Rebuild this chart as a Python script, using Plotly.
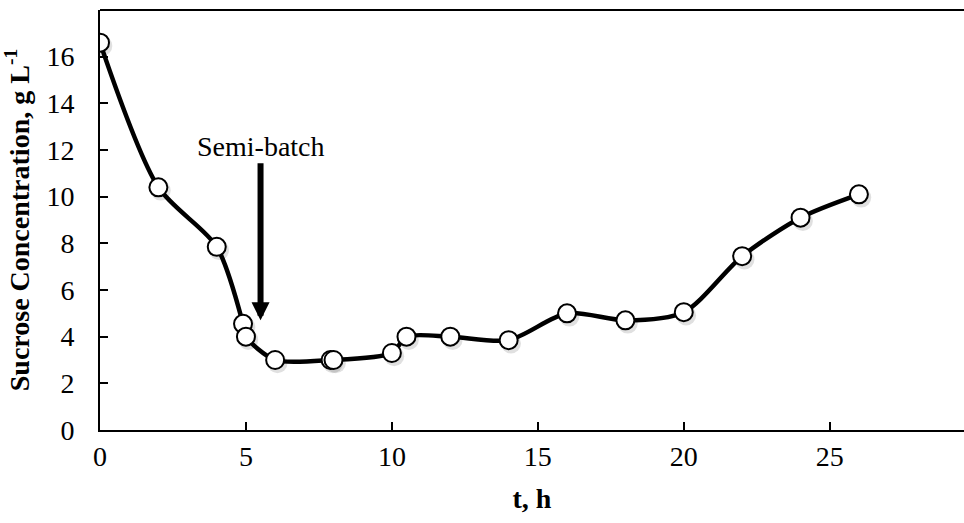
import plotly.graph_objects as go

# Sucrose concentration during fermentation (batch, then semi-batch feeding)
t_hours = [0, 2, 4, 4.9, 5.0, 6, 7.9, 8, 10, 10.5, 12, 14, 16, 18, 20, 22, 24, 26]
sucrose = [16.6, 10.4, 7.85, 4.55, 4.0, 3.0, 3.0, 3.0, 3.3, 4.0, 4.0, 3.85, 5.0, 4.7, 5.05, 7.45, 9.1, 10.1]

x_ticks = [0, 5, 10, 15, 20, 25]
y_ticks = [0, 2, 4, 6, 8, 10, 12, 14, 16]

# Semi-batch start marker
feed_time = 5.5
arrow_head_y = 4.7
arrow_tail_y = 11.5

FONT = "Liberation Serif, Times New Roman, serif"

fig = go.Figure()

# soft shadow under the markers
fig.add_trace(go.Scatter(
    x=[v + 0.08 for v in t_hours], y=[v - 0.14 for v in sucrose],
    mode="markers",
    marker=dict(size=20, color="rgba(0,0,0,0.12)", line=dict(width=0)),
    hoverinfo="skip", showlegend=False,
))

fig.add_trace(go.Scatter(
    x=t_hours, y=sucrose,
    mode="lines+markers",
    line=dict(color="black", width=4.5, shape="spline", smoothing=0.8),
    marker=dict(size=18, color="white", line=dict(color="black", width=2)),
    showlegend=False,
))

fig.add_annotation(
    x=feed_time, y=arrow_head_y, ax=feed_time, ay=arrow_tail_y,
    xref="x", yref="y", axref="x", ayref="y",
    showarrow=True, arrowhead=2, arrowsize=0.6, arrowwidth=6, arrowcolor="black",
    text="",
)
fig.add_annotation(
    x=feed_time, y=arrow_tail_y, xref="x", yref="y",
    text="Semi-batch", showarrow=False, yanchor="bottom", yshift=-2,
    font=dict(family=FONT, size=28, color="black"),
)

fig.update_layout(
    width=964, height=523,
    margin=dict(l=100, r=0, t=10, b=93),
    paper_bgcolor="white", plot_bgcolor="white",
    font=dict(family=FONT, size=28, color="black"),
)
fig.update_xaxes(
    range=[0, 29.6], tickvals=x_ticks, ticktext=[str(v) for v in x_ticks],
    ticks="inside", ticklen=8, tickwidth=1.5, tickcolor="black",
    showline=True, linecolor="black", linewidth=2, mirror=False,
    showgrid=False, zeroline=False,
    title=dict(text="<b>t, h</b>", font=dict(family=FONT, size=28), standoff=18),
    tickfont=dict(family=FONT, size=28),
    ticklabelstandoff=0,
)
fig.update_yaxes(
    range=[0, 18], tickvals=y_ticks, ticktext=[str(v) for v in y_ticks],
    ticks="inside", ticklen=8, tickwidth=1.5, tickcolor="black",
    showline=True, linecolor="black", linewidth=2,
    showgrid=False, zeroline=False,
    title=dict(text="<b>Sucrose Concentration, g L<sup>-1</sup></b>", font=dict(family=FONT, size=28), standoff=12),
    tickfont=dict(family=FONT, size=28),
    ticklabelstandoff=18,
)
# top border of the plot area
fig.add_shape(type="line", xref="paper", yref="paper", x0=0, x1=1, y0=1, y1=1,
              line=dict(color="black", width=2))

fig.write_html("out.html")
